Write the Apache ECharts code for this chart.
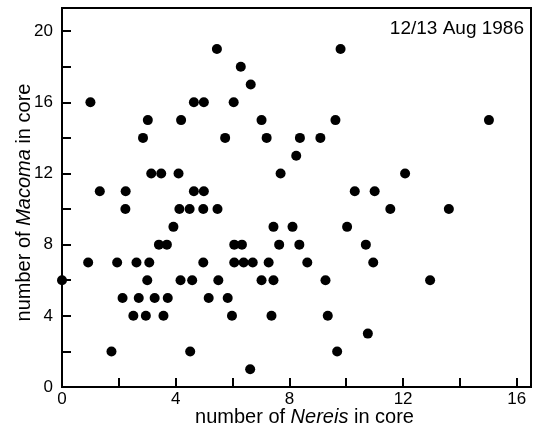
<!DOCTYPE html>
<html>
<head>
<meta charset="utf-8">
<script src="https://cdn.jsdelivr.net/npm/echarts@6/dist/echarts.min.js"></script>
<style>
html,body{margin:0;padding:0;background:#fff;}
#chart{width:534px;height:436px;}
</style>
</head>
<body>
<div id="chart"></div>
<script>
// Number of Nereis (x) and Macoma (y) per core, 12/13 Aug 1986
const nereis = [
  1.0, 1.33, 2.24, 3.02, 2.85, 3.14, 3.49, 4.10, 4.19, 4.64,
  4.99, 4.64, 4.99, 5.45, 6.29, 6.64, 6.04, 5.74, 7.02, 7.20,
  8.37, 8.24, 7.69, 9.80, 9.62, 9.09, 12.07, 10.30, 11.00, 15.02,
  2.23, 4.13, 4.49, 4.97, 5.47, 3.92, 7.44, 8.11, 3.41, 3.69,
  6.06, 6.33, 7.64, 8.35, 0.92, 1.94, 2.62, 3.07, 4.97, 6.06,
  6.39, 6.71, 7.27, 0.0, 3.00, 4.17, 4.58, 5.50, 7.02, 7.44,
  2.13, 2.70, 3.26, 3.72, 5.16, 5.83, 2.51, 2.95, 3.57, 5.98,
  7.37, 1.74, 4.51, 6.62, 11.55, 13.61, 10.03, 10.69, 8.63, 10.95,
  9.27, 12.95, 9.35, 10.76, 9.68
];
const macoma = [
  16, 11, 11, 15, 14, 12, 12, 12, 15, 16,
  16, 11, 11, 19, 18, 17, 16, 14, 15, 14,
  14, 13, 12, 19, 15, 14, 12, 11, 11, 15,
  10, 10, 10, 10, 10, 9, 9, 9, 8, 8,
  8, 8, 8, 8, 7, 7, 7, 7, 7, 7,
  7, 7, 7, 6, 6, 6, 6, 6, 6, 6,
  5, 5, 5, 5, 5, 5, 4, 4, 4, 4,
  4, 2, 2, 1, 10, 10, 9, 8, 7, 7,
  6, 6, 4, 3, 2
];
const xTickLabels = [0, 4, 8, 12, 16];
const yTickLabels = [0, 4, 8, 12, 16, 20];
const annotation = '12/13 Aug 1986';

const FONT = '"Liberation Sans", Arial, Helvetica, sans-serif';
const points = nereis.map((x, i) => [x, macoma[i]]);

const chart = echarts.init(document.getElementById('chart'), null, {renderer: 'canvas'});
chart.setOption({
  animation: false,
  backgroundColor: '#fff',
  grid: {
    left: 62, right: 1, top: 8, bottom: 49,
    show: true, borderColor: '#000', borderWidth: 2, backgroundColor: 'transparent'
  },
  xAxis: {
    type: 'value', min: 0, max: 16.5, interval: 2,
    splitLine: {show: false},
    axisLine: {show: true, onZero: false, lineStyle: {color: '#000', width: 2}},
    axisTick: {show: true, inside: true, length: 9, lineStyle: {color: '#000', width: 2}},
    axisLabel: {
      margin: 4, color: '#000', fontSize: 17, fontFamily: FONT,
      formatter: v => xTickLabels.includes(v) ? String(v) : ''
    },
    name: 'number of {i|Nereis} in core',
    nameLocation: 'middle', nameGap: 20, nameMoveOverlap: false,
    nameTextStyle: {
      color: '#000', fontSize: 20, fontFamily: FONT, padding: [0, 0, 0, 16],
      rich: {i: {fontStyle: 'italic', fontSize: 20, fontFamily: FONT, color: '#000'}}
    }
  },
  yAxis: {
    type: 'value', min: 0, max: 21.3, interval: 2,
    splitLine: {show: false},
    axisLine: {show: true, onZero: false, lineStyle: {color: '#000', width: 2}},
    axisTick: {show: true, inside: true, length: 9, lineStyle: {color: '#000', width: 2}},
    axisLabel: {
      margin: 9, color: '#000', fontSize: 17, fontFamily: FONT,
      formatter: v => yTickLabels.includes(v) ? String(v) : ''
    },
    name: 'number of {i|Macoma} in core',
    nameLocation: 'middle', nameGap: 28, nameMoveOverlap: false,
    nameTextStyle: {
      color: '#000', fontSize: 20, fontFamily: FONT, padding: [0, 10, 0, 0],
      rich: {i: {fontStyle: 'italic', fontSize: 20, fontFamily: FONT, color: '#000'}}
    }
  },
  graphic: [{
    type: 'text', right: 10, top: 19,
    style: {text: annotation, fill: '#000', font: '19px ' + FONT}
  }],
  series: [{
    type: 'scatter', data: points, symbol: 'circle', symbolSize: 10,
    itemStyle: {color: '#000', opacity: 1}
  }]
});
</script>
</body>
</html>
